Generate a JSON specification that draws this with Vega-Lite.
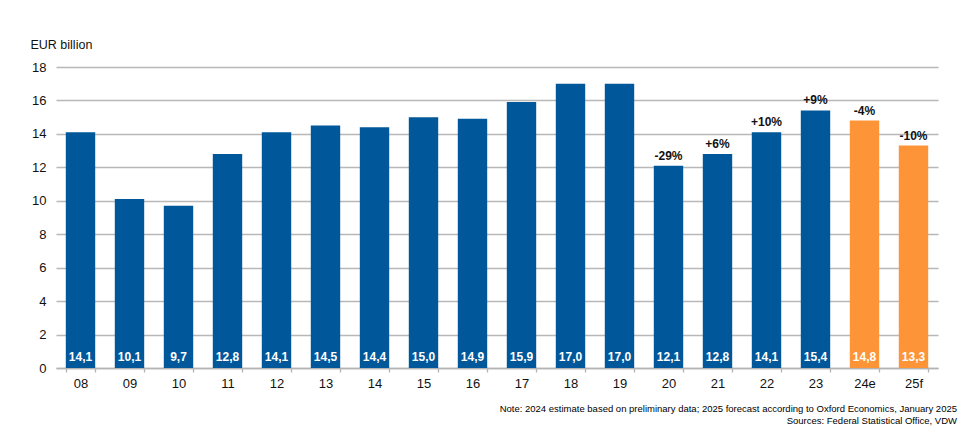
{
  "$schema": "https://vega.github.io/schema/vega-lite/v6.json",
  "width": 882,
  "height": 301,
  "autosize": {"type": "none"},
  "padding": {"left": 56, "top": 67, "right": 42, "bottom": 72},
  "background": "white",
  "config": {
    "font": "Liberation Sans",
    "view": {"stroke": null},
    "locale": {"number": {"decimal": ",", "thousands": ".", "grouping": [3], "currency": ["", " €"]}}
  },
  "title": {
    "text": ["Note: 2024 estimate based on preliminary data; 2025 forecast according to Oxford Economics, January 2025", "Sources: Federal Statistical Office, VDW"],
    "orient": "bottom",
    "anchor": "end",
    "align": "right",
    "frame": "group",
    "dx": 19,
    "offset": 14,
    "fontSize": 9.5,
    "fontWeight": "normal",
    "lineHeight": 11.5,
    "color": "#000000",
    "font": "Liberation Sans"
  },
  "data": {
    "values": [
      {"year": "08", "value": 14.1, "type": "actual", "pct": null},
      {"year": "09", "value": 10.1, "type": "actual", "pct": null},
      {"year": "10", "value": 9.7, "type": "actual", "pct": null},
      {"year": "11", "value": 12.8, "type": "actual", "pct": null},
      {"year": "12", "value": 14.1, "type": "actual", "pct": null},
      {"year": "13", "value": 14.5, "type": "actual", "pct": null},
      {"year": "14", "value": 14.4, "type": "actual", "pct": null},
      {"year": "15", "value": 15.0, "type": "actual", "pct": null},
      {"year": "16", "value": 14.9, "type": "actual", "pct": null},
      {"year": "17", "value": 15.9, "type": "actual", "pct": null},
      {"year": "18", "value": 17.0, "type": "actual", "pct": null},
      {"year": "19", "value": 17.0, "type": "actual", "pct": null},
      {"year": "20", "value": 12.1, "type": "actual", "pct": "-29%"},
      {"year": "21", "value": 12.8, "type": "actual", "pct": "+6%"},
      {"year": "22", "value": 14.1, "type": "actual", "pct": "+10%"},
      {"year": "23", "value": 15.4, "type": "actual", "pct": "+9%"},
      {"year": "24e", "value": 14.8, "type": "forecast", "pct": "-4%"},
      {"year": "25f", "value": 13.3, "type": "forecast", "pct": "-10%"}
    ]
  },
  "encoding": {
    "x": {
      "field": "year",
      "type": "nominal",
      "sort": null,
      "scale": {"paddingInner": 0.4, "paddingOuter": 0.2},
      "axis": {
        "title": null,
        "labelAngle": 0,
        "labelFontSize": 13,
        "labelColor": "#111111",
        "labelPadding": 5,
        "tickBand": "extent",
        "tickSize": 4,
        "tickColor": "#b3b3b3",
        "tickWidth": 1.3,
        "domainColor": "#b3b3b3",
        "domainWidth": 1.5,
        "grid": false
      }
    },
    "y": {
      "field": "value",
      "type": "quantitative",
      "scale": {"domain": [0, 18], "nice": false},
      "axis": {
        "values": [0, 2, 4, 6, 8, 10, 12, 14, 16, 18],
        "tickCount": 10,
        "labelOverlap": false,
        "title": "EUR billion",
        "titleAngle": 0,
        "titleAlign": "left",
        "titleBaseline": "middle",
        "titleX": -26,
        "titleY": -23,
        "titleFontSize": 12.5,
        "titleFontWeight": "normal",
        "titleColor": "#111111",
        "labelFontSize": 13,
        "labelColor": "#111111",
        "labelPadding": 10,
        "ticks": false,
        "domain": false,
        "grid": true,
        "gridColor": "#b8b8b8",
        "gridWidth": 1.3
      }
    }
  },
  "layer": [
    {
      "mark": {"type": "bar"},
      "encoding": {
        "color": {
          "field": "type",
          "type": "nominal",
          "scale": {"domain": ["actual", "forecast"], "range": ["#00589b", "#fd9538"]},
          "legend": null
        }
      }
    },
    {
      "mark": {"type": "text", "color": "white", "fontWeight": "bold", "fontSize": 12, "baseline": "alphabetic", "dy": -7},
      "encoding": {
        "y": {"datum": 0},
        "text": {"field": "value", "type": "quantitative", "format": ".1f"}
      }
    },
    {
      "transform": [{"filter": "datum.pct != null"}],
      "mark": {"type": "text", "color": "#111111", "fontWeight": "bold", "fontSize": 12, "baseline": "alphabetic", "dy": -6},
      "encoding": {
        "text": {"field": "pct", "type": "nominal"}
      }
    }
  ]
}
